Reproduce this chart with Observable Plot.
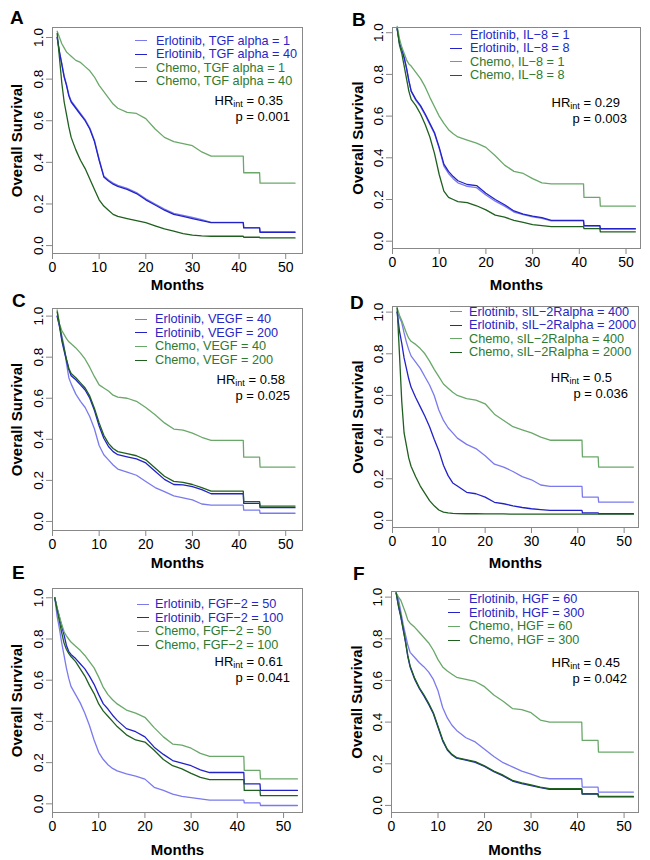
<!DOCTYPE html>
<html><head><meta charset="utf-8">
<script src="https://cdn.jsdelivr.net/npm/d3@7"></script>
<script src="https://cdn.jsdelivr.net/npm/@observablehq/plot@0.6"></script>
<style>
body{margin:0;background:#fff;}
#fig{position:relative;width:650px;height:860px;background:#fff;font-family:"Liberation Sans",Arial,sans-serif;overflow:hidden}
#fig svg{position:absolute;overflow:visible}
.abs{position:absolute;white-space:nowrap}
.letter{font-weight:bold;font-size:19px;line-height:19px}
.leg{font-size:12.7px;line-height:13px;height:13px}
.legline{height:0;width:12px;border-top:1.5px solid}
.hr{font-size:13px;line-height:12px;height:12px;color:#000}
.hr sub{font-size:9px;vertical-align:-2px;line-height:0}
</style>
</head><body><div id="fig"></div>
<script>
// ---- shared ticks and times ----
const xTicks = [0, 10, 20, 30, 40, 50];
const yTicks = [0, 0.2, 0.4, 0.6, 0.8, 1.0];
const times = [1, 1.5, 2, 2.5, 3, 3.5, 4, 5, 6, 7, 8, 9, 10, 11, 12, 13, 14, 16, 18, 20, 22, 24, 26, 28, 30, 32, 34, 40.9, 41, 44.4, 44.5, 52];
const timesE = [0.5, 1, 1.5, 2, 2.5, 3, 3.5, 4, 5, 6, 7, 8, 9, 10, 11, 12, 13, 14, 16, 18, 20, 22, 24, 26, 28, 30, 32, 34, 41.4, 41.5, 44.9, 45, 53];
const panelLetters = ["A", "B", "C", "D", "E", "F"];

// ---- Panel A: TGF alpha ----
const aLabels = ["Erlotinib, TGF alpha = 1", "Erlotinib, TGF alpha = 40", "Chemo, TGF alpha = 1", "Chemo, TGF alpha = 40"];
const aErlLow = [1.0, 0.93, 0.875, 0.815, 0.775, 0.725, 0.695, 0.665, 0.635, 0.605, 0.565, 0.505, 0.415, 0.335, 0.315, 0.3, 0.29, 0.275, 0.255, 0.225, 0.2, 0.175, 0.155, 0.145, 0.135, 0.125, 0.112, 0.112, 0.086, 0.086, 0.065, 0.065];
const aErlHigh = [1.0, 0.93, 0.87, 0.81, 0.77, 0.72, 0.69, 0.66, 0.63, 0.60, 0.56, 0.50, 0.41, 0.33, 0.31, 0.295, 0.285, 0.27, 0.25, 0.22, 0.195, 0.17, 0.15, 0.14, 0.13, 0.12, 0.11, 0.11, 0.085, 0.085, 0.064, 0.064];
const aChemoLow = [1.03, 1.0, 0.97, 0.95, 0.93, 0.92, 0.91, 0.89, 0.88, 0.86, 0.84, 0.81, 0.77, 0.74, 0.71, 0.68, 0.66, 0.64, 0.635, 0.61, 0.56, 0.52, 0.50, 0.49, 0.48, 0.45, 0.43, 0.43, 0.35, 0.35, 0.30, 0.30];
const aChemoHigh = [1.02, 0.90, 0.78, 0.69, 0.63, 0.57, 0.52, 0.46, 0.41, 0.37, 0.32, 0.27, 0.22, 0.19, 0.17, 0.15, 0.14, 0.13, 0.12, 0.11, 0.095, 0.08, 0.07, 0.058, 0.05, 0.047, 0.045, 0.045, 0.04, 0.04, 0.037, 0.037];
const aStats = ["0.35", "0.001"];

// ---- Panel B: IL-8 ----
const bLabels = ["Erlotinib, IL\u22128 = 1", "Erlotinib, IL\u22128 = 8", "Chemo, IL\u22128 = 1", "Chemo, IL\u22128 = 8"];
const bErlLow = [1.02, 0.95, 0.92, 0.88, 0.83, 0.77, 0.72, 0.675, 0.645, 0.605, 0.56, 0.515, 0.445, 0.36, 0.325, 0.30, 0.28, 0.263, 0.257, 0.222, 0.192, 0.168, 0.14, 0.127, 0.117, 0.11, 0.098, 0.098, 0.073, 0.073, 0.058, 0.058];
const bErlHigh = [1.02, 0.95, 0.92, 0.88, 0.83, 0.77, 0.72, 0.68, 0.65, 0.61, 0.565, 0.52, 0.45, 0.37, 0.335, 0.31, 0.29, 0.272, 0.267, 0.23, 0.20, 0.175, 0.145, 0.13, 0.12, 0.113, 0.10, 0.10, 0.075, 0.075, 0.06, 0.06];
const bChemoLow = [1.03, 0.97, 0.93, 0.90, 0.87, 0.85, 0.84, 0.81, 0.78, 0.74, 0.69, 0.645, 0.60, 0.565, 0.535, 0.515, 0.50, 0.485, 0.47, 0.45, 0.41, 0.365, 0.335, 0.325, 0.30, 0.28, 0.275, 0.275, 0.21, 0.21, 0.168, 0.168];
const bChemoHigh = [1.02, 0.94, 0.90, 0.84, 0.78, 0.72, 0.68, 0.65, 0.61, 0.56, 0.50, 0.42, 0.32, 0.24, 0.21, 0.20, 0.19, 0.185, 0.17, 0.15, 0.125, 0.115, 0.10, 0.09, 0.08, 0.075, 0.07, 0.07, 0.06, 0.06, 0.045, 0.045];
const bStats = ["0.29", "0.003"];

// ---- Panel C: VEGF ----
const cLabels = ["Erlotinib, VEGF = 40", "Erlotinib, VEGF = 200", "Chemo, VEGF = 40", "Chemo, VEGF = 200"];
const cErlLow = [1.0, 0.95, 0.905, 0.85, 0.77, 0.70, 0.67, 0.62, 0.585, 0.555, 0.51, 0.45, 0.37, 0.325, 0.30, 0.275, 0.255, 0.24, 0.225, 0.195, 0.165, 0.145, 0.125, 0.115, 0.105, 0.085, 0.08, 0.08, 0.055, 0.055, 0.04, 0.04];
const cErlHigh = [1.0, 0.95, 0.88, 0.83, 0.785, 0.74, 0.71, 0.69, 0.665, 0.64, 0.60, 0.54, 0.465, 0.405, 0.365, 0.34, 0.325, 0.315, 0.305, 0.285, 0.245, 0.205, 0.18, 0.178, 0.17, 0.155, 0.135, 0.135, 0.088, 0.088, 0.067, 0.067];
const cChemoLow = [1.03, 0.96, 0.93, 0.91, 0.89, 0.875, 0.865, 0.845, 0.82, 0.79, 0.75, 0.705, 0.665, 0.65, 0.635, 0.615, 0.605, 0.60, 0.585, 0.555, 0.52, 0.48, 0.45, 0.445, 0.43, 0.41, 0.395, 0.395, 0.313, 0.313, 0.265, 0.265];
const cChemoHigh = [1.02, 0.96, 0.89, 0.84, 0.79, 0.745, 0.72, 0.70, 0.675, 0.65, 0.61, 0.55, 0.48, 0.42, 0.38, 0.355, 0.34, 0.33, 0.32, 0.30, 0.26, 0.22, 0.195, 0.19, 0.18, 0.165, 0.148, 0.148, 0.097, 0.097, 0.075, 0.075];
const cStats = ["0.58", "0.025"];

// ---- Panel D: sIL-2Ralpha ----
const dLabels = ["Erlotinib, sIL\u22122Ralpha = 400", "Erlotinib, sIL\u22122Ralpha = 2000", "Chemo, sIL\u22122Ralpha = 400", "Chemo, sIL\u22122Ralpha = 2000"];
const dErlLow = [1.0, 0.975, 0.95, 0.90, 0.856, 0.82, 0.79, 0.76, 0.73, 0.69, 0.65, 0.60, 0.53, 0.48, 0.445, 0.42, 0.395, 0.365, 0.345, 0.31, 0.27, 0.256, 0.235, 0.21, 0.195, 0.17, 0.163, 0.163, 0.112, 0.112, 0.088, 0.088];
const dErlHigh = [1.0, 0.91, 0.85, 0.78, 0.73, 0.68, 0.64, 0.59, 0.545, 0.50, 0.45, 0.39, 0.335, 0.265, 0.215, 0.18, 0.165, 0.135, 0.128, 0.112, 0.087, 0.08, 0.07, 0.062, 0.056, 0.052, 0.048, 0.048, 0.036, 0.036, 0.033, 0.033];
const dChemoLow = [1.02, 0.985, 0.96, 0.93, 0.90, 0.875, 0.86, 0.845, 0.825, 0.80, 0.765, 0.725, 0.69, 0.655, 0.635, 0.615, 0.60, 0.585, 0.578, 0.56, 0.51, 0.48, 0.45, 0.435, 0.42, 0.40, 0.385, 0.385, 0.305, 0.305, 0.256, 0.256];
const dChemoHigh = [1.02, 0.80, 0.57, 0.42, 0.36, 0.30, 0.26, 0.21, 0.165, 0.13, 0.095, 0.07, 0.05, 0.04, 0.036, 0.034, 0.033, 0.032, 0.032, 0.031, 0.031, 0.031, 0.03, 0.03, 0.03, 0.03, 0.03, 0.03, 0.03, 0.03, 0.03, 0.03];
const dStats = ["0.5", "0.036"];

// ---- Panel E: FGF-2 ----
const eLabels = ["Erlotinib, FGF\u22122 = 50", "Erlotinib, FGF\u22122 = 100", "Chemo, FGF\u22122 = 50", "Chemo, FGF\u22122 = 100"];
const eErlLow = [1.0, 0.91, 0.85, 0.78, 0.72, 0.66, 0.61, 0.57, 0.53, 0.49, 0.44, 0.38, 0.31, 0.25, 0.215, 0.19, 0.172, 0.16, 0.145, 0.135, 0.12, 0.08, 0.065, 0.047, 0.036, 0.03, 0.024, 0.018, 0.018, 0.005, 0.005, -0.008, -0.008];
const eErlHigh = [1.0, 0.95, 0.905, 0.86, 0.82, 0.77, 0.74, 0.725, 0.705, 0.68, 0.655, 0.62, 0.58, 0.53, 0.485, 0.46, 0.43, 0.405, 0.365, 0.35, 0.325, 0.275, 0.24, 0.21, 0.198, 0.185, 0.165, 0.152, 0.152, 0.097, 0.097, 0.065, 0.065];
const eChemoLow = [1.0, 0.95, 0.91, 0.87, 0.835, 0.815, 0.80, 0.785, 0.765, 0.745, 0.72, 0.69, 0.66, 0.615, 0.565, 0.53, 0.505, 0.485, 0.455, 0.44, 0.42, 0.37, 0.325, 0.29, 0.285, 0.27, 0.245, 0.23, 0.23, 0.162, 0.162, 0.121, 0.121];
const eChemoHigh = [1.0, 0.94, 0.885, 0.83, 0.78, 0.75, 0.73, 0.715, 0.69, 0.655, 0.62, 0.575, 0.535, 0.485, 0.45, 0.425, 0.40, 0.375, 0.335, 0.31, 0.30, 0.26, 0.215, 0.185, 0.17, 0.148, 0.128, 0.118, 0.118, 0.065, 0.065, 0.04, 0.04];
const eStats = ["0.61", "0.041"];

// ---- Panel F: HGF ----
const fLabels = ["Erlotinib, HGF = 60", "Erlotinib, HGF = 300", "Chemo, HGF = 60", "Chemo, HGF = 300"];
const fErlLow = [1.02, 0.99, 0.93, 0.87, 0.82, 0.77, 0.735, 0.71, 0.685, 0.665, 0.64, 0.605, 0.55, 0.47, 0.42, 0.385, 0.36, 0.325, 0.305, 0.27, 0.235, 0.205, 0.185, 0.165, 0.15, 0.135, 0.128, 0.128, 0.088, 0.088, 0.064, 0.064];
const fErlHigh = [1.02, 0.955, 0.905, 0.845, 0.785, 0.715, 0.665, 0.605, 0.56, 0.525, 0.485, 0.44, 0.375, 0.31, 0.266, 0.242, 0.227, 0.217, 0.207, 0.187, 0.162, 0.142, 0.117, 0.105, 0.095, 0.085, 0.077, 0.077, 0.054, 0.054, 0.041, 0.041];
const fChemoLow = [1.02, 1.0, 0.985, 0.955, 0.925, 0.89, 0.875, 0.855, 0.83, 0.805, 0.78, 0.745, 0.70, 0.665, 0.645, 0.63, 0.615, 0.605, 0.595, 0.57, 0.53, 0.50, 0.465, 0.46, 0.445, 0.41, 0.40, 0.40, 0.312, 0.312, 0.256, 0.256];
const fChemoHigh = [1.02, 0.96, 0.91, 0.85, 0.79, 0.72, 0.67, 0.61, 0.565, 0.53, 0.49, 0.445, 0.38, 0.315, 0.27, 0.245, 0.23, 0.22, 0.21, 0.19, 0.165, 0.145, 0.12, 0.108, 0.098, 0.088, 0.08, 0.08, 0.056, 0.056, 0.043, 0.043];
const fStats = ["0.45", "0.042"];

// ---- styling ----
const lineColors = ["#7a7aee", "#2222c8", "#6aa86a", "#1f5f1f"];
const textColors = ["#2626c6", "#2626c6", "#2e7a2e", "#2e7a2e"];

// ---- layout (page pixels) ----
const layout = [
  {ox: 0,   oy: 0,   L: 52,  R: 302, T: 27,  B: 253, xd: [0, 53.6], yd: [-0.038, 1.048], mdy: 32, ylx: -35,
   letter: [10, 7.5], leg: [135, 156, 41], hr: [283, 105.5, 290, 121.5]},
  {ox: 325, oy: 0,   L: 392, R: 640, T: 27,  B: 248, xd: [0, 53.1], yd: [-0.035, 1.025], mdy: 37, ylx: -34,
   letter: [352, 9.5], leg: [450, 470, 35], hr: [620, 107.5, 627, 123.5]},
  {ox: 0,   oy: 285, L: 52,  R: 302, T: 308, B: 530, xd: [0, 53.6], yd: [-0.044, 1.037], mdy: 33, ylx: -35,
   letter: [12, 290.5], leg: [135, 155, 319.5], hr: [285, 384, 290, 400]},
  {ox: 325, oy: 285, L: 392, R: 638, T: 306, B: 527, xd: [0, 53.1], yd: [-0.034, 1.027], mdy: 36, ylx: -34,
   letter: [350, 292.5], leg: [450, 469, 312], hr: [612, 382.5, 628, 398.5]},
  {ox: 0,   oy: 570, L: 52,  R: 302, T: 588, B: 812, xd: [0, 54.1], yd: [-0.042, 1.045], mdy: 38, ylx: -35,
   letter: [12, 562.5], leg: [137, 155, 604.5], hr: [283, 666.5, 290, 682.5]},
  {ox: 325, oy: 570, L: 391, R: 638, T: 591, B: 812, xd: [0, 53.1], yd: [-0.034, 1.027], mdy: 38, ylx: -34,
   letter: [353, 563.5], leg: [448, 469, 599.5], hr: [620, 667.5, 627, 683.5]}
];

const panels = [
  {times, series: [aErlLow, aErlHigh, aChemoLow, aChemoHigh], labels: aLabels, stats: aStats},
  {times, series: [bErlLow, bErlHigh, bChemoLow, bChemoHigh], labels: bLabels, stats: bStats},
  {times, series: [cErlLow, cErlHigh, cChemoLow, cChemoHigh], labels: cLabels, stats: cStats},
  {times, series: [dErlLow, dErlHigh, dChemoLow, dChemoHigh], labels: dLabels, stats: dStats},
  {times: timesE, series: [eErlLow, eErlHigh, eChemoLow, eChemoHigh], labels: eLabels, stats: eStats},
  {times, series: [fErlLow, fErlHigh, fChemoLow, fChemoHigh], labels: fLabels, stats: fStats}
];

const fig = document.getElementById("fig");
const W = 325, H = 290;

function addDiv(cls, left, top, html, style) {
  const d = document.createElement("div");
  d.className = "abs " + cls;
  d.style.left = left + "px";
  d.style.top = top + "px";
  if (style) Object.assign(d.style, style);
  d.innerHTML = html;
  fig.appendChild(d);
  return d;
}

panels.forEach((p, i) => {
  const g = layout[i];
  const lineMarks = p.series.map((vals, k) =>
    Plot.line(vals.map((v, j) => ({t: p.times[j], s: v})), {
      x: "t", y: "s", curve: "linear", stroke: lineColors[k], strokeWidth: 1.3
    })
  );
  const svg = Plot.plot({
    width: W, height: H,
    marginLeft: g.L - g.ox, marginRight: g.ox + W - g.R,
    marginTop: g.T - g.oy, marginBottom: g.oy + H - g.B,
    style: {background: "transparent", overflow: "visible", fontFamily: "Liberation Sans, Arial, sans-serif", color: "black"},
    x: {domain: g.xd, label: null},
    y: {domain: g.yd, label: null},
    marks: [
      Plot.axisX({ticks: xTicks, tickSize: 6, tickPadding: 3, stroke: "#888", fill: "black", fontSize: 14, tickFormat: d => String(d)}),
      Plot.axisY({ticks: yTicks, tickSize: 6, stroke: "#888", tickFormat: () => ""}),
      Plot.text(yTicks, {y: d => d, text: d => d.toFixed(1), frameAnchor: "left", dx: -14, rotate: -90, textAnchor: "middle", lineAnchor: "middle", fontSize: 13.5, fill: "black"}),
      Plot.text(["Overall Survival"], {frameAnchor: "left", dx: g.ylx, rotate: -90, textAnchor: "middle", lineAnchor: "middle", fontSize: 15, fontWeight: "bold", fill: "black"}),
      Plot.text(["Months"], {frameAnchor: "bottom", dy: g.mdy, textAnchor: "middle", lineAnchor: "middle", fontSize: 15, fontWeight: "bold", fill: "black"}),
      ...lineMarks,
      Plot.frame({stroke: "#888", strokeWidth: 1})
    ]
  });
  svg.style.left = g.ox + "px";
  svg.style.top = g.oy + "px";
  fig.appendChild(svg);

  // panel letter
  addDiv("letter", g.letter[0], g.letter[1], panelLetters[i]);
  // legend
  const [lx, tx, y0] = g.leg;
  p.labels.forEach((lab, k) => {
    const y = y0 + k * 13.6;
    addDiv("legline", lx, y - 0.75, "", {borderTopColor: lineColors[k]});
    addDiv("leg", tx, y - 6.5, lab, {color: textColors[k]});
  });
  // stats (positions are text baselines)
  const [hrR, hrB, pR, pB] = g.hr;
  addDiv("hr", 0, hrB - 10.3, "HR<sub>int</sub> = " + p.stats[0], {left: "auto", right: (650 - hrR) + "px"});
  addDiv("hr", 0, pB - 10.3, "p = " + p.stats[1], {left: "auto", right: (650 - pR) + "px"});
});
</script>
</body></html>
